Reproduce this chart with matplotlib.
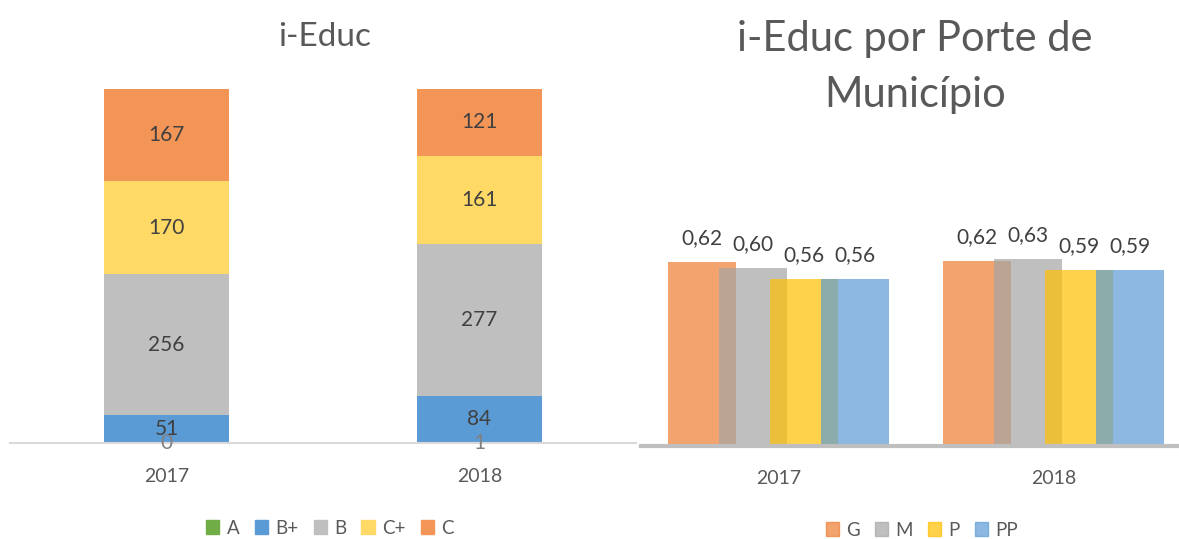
import numpy as np
import matplotlib.pyplot as plt
from matplotlib.patches import Patch

plt.rcParams['font.family'] = ['Lato', 'DejaVu Sans']

# Dados - gráfico da esquerda (empilhado)
anos = ['2017', '2018']
faixas = ['A', 'B+', 'B', 'C+', 'C']
valores_faixas = {
    'A': [0, 1],
    'B+': [51, 84],
    'B': [256, 277],
    'C+': [170, 161],
    'C': [167, 121],
}
cores_faixas = ['#70AD47', '#5B9BD5', '#BFBFBF', '#FFD966', '#F29556']

# Dados - gráfico da direita (i-Educ por porte)
portes = ['G', 'M', 'P', 'PP']
ieduc_porte = {
    'G': [0.62, 0.622],
    'M': [0.60, 0.628],
    'P': [0.563, 0.593],
    'PP': [0.563, 0.593],
}
rotulos_porte = {
    'G': ['0,62', '0,62'],
    'M': ['0,60', '0,63'],
    'P': ['0,56', '0,59'],
    'PP': ['0,56', '0,59'],
}
cores_porte = ['#ED7D31', '#A5A5A5', '#FFC000', '#5B9BD5']

texto = '#404040'
cinza = '#595959'

fig = plt.figure(figsize=(11.79, 5.39), dpi=100)

# ---------------- esquerda ----------------
ax1 = fig.add_axes([10 / 1179, 96 / 539, 626 / 1179, 354 / 539])
x = np.arange(len(anos))
base = np.zeros(len(anos))
for f, cor in zip(faixas, cores_faixas):
    v = np.array(valores_faixas[f])
    ax1.bar(x, v, width=0.4, bottom=base, color=cor)
    for xi, vi, bi in zip(x, v, base):
        c = '#808080' if f == 'A' else texto
        ax1.text(xi, bi + vi / 2, str(vi), ha='center', va='center',
                 fontsize=15, color=c)
    base += v
ax1.set_xlim(-0.5, 1.5)
ax1.set_ylim(0, 644)
ax1.set_yticks([])
ax1.set_xticks(x)
ax1.set_xticklabels(anos, fontsize=14, color=cinza)
ax1.tick_params(axis='x', length=0, pad=18)
for s in ['top', 'right', 'left']:
    ax1.spines[s].set_visible(False)
ax1.spines['bottom'].set_color('#D9D9D9')
ax1.spines['bottom'].set_linewidth(1.5)

fig.text(325 / 1179, 1 - 37 / 539, 'i-Educ', ha='center', va='center',
         fontsize=24, color=cinza)
h1 = [Patch(color=c) for c in cores_faixas]
fig.legend(h1, faixas, loc='center', bbox_to_anchor=(330 / 1179, 1 - 528 / 539),
           ncol=5, frameon=False, fontsize=13.5, handlelength=0.7, handleheight=0.7,
           columnspacing=0.8, handletextpad=0.4, labelcolor=cinza)

# ---------------- direita ----------------
# eixo começa em x=641 px; 275 px por categoria
ax2 = fig.add_axes([641 / 1179, 93 / 539, 538 / 1179, 238 / 539])
offsets = [-0.278, -0.093, 0.093, 0.278]
for p, cor, off in zip(portes, cores_porte, offsets):
    v = ieduc_porte[p]
    bars = ax2.bar(x + off, v, width=0.247, color=cor, alpha=0.7, linewidth=0)
    for b, lab in zip(bars, rotulos_porte[p]):
        ax2.annotate(lab, (b.get_x() + b.get_width() / 2, b.get_height()),
                     xytext=(0, 10), textcoords='offset points',
                     ha='center', va='bottom', fontsize=15, color=texto)
ax2.set_xlim(-0.5, -0.5 + 538 / 275)
ax2.set_ylim(0, 0.8)
ax2.set_yticks([])
ax2.set_xticks(x)
ax2.set_xticklabels(anos, fontsize=14, color=cinza)
ax2.tick_params(axis='x', length=0, pad=17)
for s in ['top', 'right', 'left']:
    ax2.spines[s].set_visible(False)
ax2.spines['bottom'].set_color('#BFBFBF')
ax2.spines['bottom'].set_linewidth(3)

fig.text(915 / 1179, 1 - 67 / 539, 'i-Educ por Porte de\nMunicípio', ha='center',
         va='center', fontsize=30, color=cinza, linespacing=1.6)
h2 = [Patch(color=c, alpha=0.7) for c in cores_porte]
fig.legend(h2, portes, loc='center', bbox_to_anchor=(922 / 1179, 1 - 530 / 539),
           ncol=4, frameon=False, fontsize=13.5, handlelength=0.7, handleheight=0.7,
           columnspacing=0.8, handletextpad=0.4, labelcolor=cinza)

fig.savefig('out.png', dpi=100)
